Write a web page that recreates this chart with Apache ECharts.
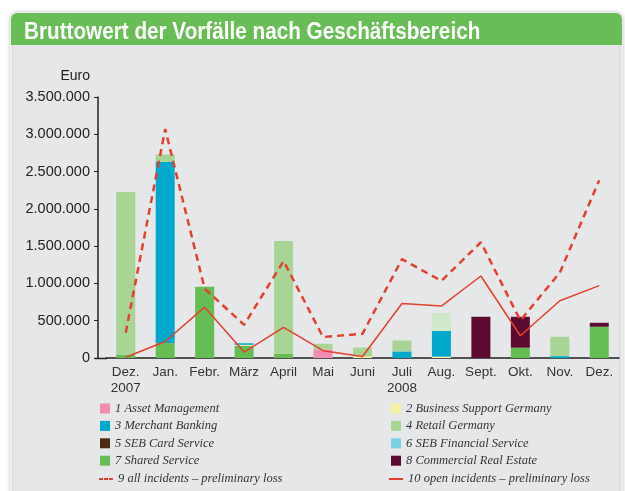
<!DOCTYPE html>
<html>
<head>
  <meta charset="utf-8">
  <title>Bruttowert der Vorfälle nach Geschäftsbereich</title>
  <script src="https://cdn.jsdelivr.net/npm/echarts@6/dist/echarts.min.js"></script>
  <style>
    body { margin: 0; background: #fff; }
  </style>
</head>
<body>
  <div id="main" style="width: 625px; height: 491px;"></div>

  <script>
    // Monate
    var months = ['Dez.\n2007', 'Jan.', 'Febr.', 'März', 'April', 'Mai', 'Juni', 'Juli\n2008', 'Aug.', 'Sept.', 'Okt.', 'Nov.', 'Dez.'];

    // Balken je Geschäftsbereich (Euro, geschätzt)
    var assetManagement    = [0, 0, 0, 0, 0, 115000, 0, 0, 0, 0, 0, 0, 0];
    var businessSupport    = [0, 0, 0, 12000, 0, 0, 20000, 0, 18000, 0, 0, 0, 0];
    var merchantBanking    = [0, 2430000, 0, 20000, 0, 0, 0, 88000, 345000, 0, 0, 25000, 0];
    var retailGermany      = [2180000, 100000, 0, 0, 1510000, 76000, 120000, 147000, 240000, 0, 0, 260000, 0];
    var sebCardService     = [0, 0, 0, 0, 0, 0, 0, 0, 0, 0, 0, 0, 0];
    var sebFinancial       = [0, 0, 0, 0, 0, 0, 0, 0, 0, 0, 0, 0, 0];
    var sharedService      = [45000, 200000, 955000, 165000, 58000, 0, 0, 0, 0, 0, 138000, 0, 419000];
    var commercialRealEst  = [0, 0, 0, 0, 0, 0, 0, 0, 0, 553000, 415000, 0, 53000];

    // Linien
    var allIncidents  = [340000, 3070000, 930000, 445000, 1300000, 281000, 325000, 1325000, 1034000, 1552000, 503000, 1145000, 2385000];
    var openIncidents = [10000, 222000, 682000, 80000, 410000, 98000, 20000, 730000, 696000, 1100000, 298000, 767000, 971000];

    var names = [
      '1 Asset Management', '2 Business Support Germany',
      '3 Merchant Banking', '4 Retail Germany',
      '5 SEB Card Service', '6 SEB Financial Service',
      '7 Shared Service', '8 Commercial Real Estate',
      '9 all incidents – preliminary loss', '10 open incidents – preliminary loss'
    ];

    var chart = echarts.init(document.getElementById('main'));

    function bar(name, data, color) {
      return {
        name: name,
        type: 'bar',
        stack: 'total',
        barWidth: 19,
        itemStyle: { color: color },
        data: data
      };
    }

    // August: oberster Teil heller eingefärbt
    var retailData = retailGermany.map(function (v, i) {
      return i === 8 ? { value: v, itemStyle: { color: '#d0e8c7' } } : v;
    });

    var legendText = {
      fontFamily: 'Liberation Serif',
      fontStyle: 'italic',
      fontSize: 12.5,
      color: '#333'
    };

    var option = {
      backgroundColor: '#fff',
      animation: false,
      graphic: [
        {
          type: 'rect',
          z: -10,
          shape: { x: 11, y: 13, width: 611, height: 485, r: 6 },
          style: { fill: '#e6e7e9', stroke: '#fff', lineWidth: 1, shadowBlur: 4, shadowColor: 'rgba(0,0,0,0.25)' }
        },
        {
          type: 'rect',
          z: -9,
          shape: { x: 11, y: 13, width: 611, height: 32, r: [6, 6, 0, 0] },
          style: { fill: '#68bd56' }
        },
        {
          // Titel, schmal gesetzt
          type: 'text',
          x: 24,
          y: 21,
          scaleX: 0.9,
          style: {
            text: 'Bruttowert der Vorfälle nach Geschäftsbereich',
            fill: '#fff',
            font: 'bold 23px "Liberation Sans", sans-serif'
          }
        },
        {
          type: 'line',
          shape: { x1: 95, y1: 358.5, x2: 107, y2: 358.5 },
          style: { stroke: '#222', lineWidth: 1.5 }
        }
      ],
      legend: [
        {
          data: [names[0], names[2], names[4], names[6]],
          orient: 'vertical', left: 95, top: 397,
          itemWidth: 10, itemHeight: 10, itemGap: 4.4,
          icon: 'rect', textStyle: legendText
        },
        {
          data: [names[1], names[3], names[5], names[7]],
          orient: 'vertical', left: 386, top: 397,
          itemWidth: 10, itemHeight: 10, itemGap: 4.4,
          icon: 'rect', textStyle: legendText
        },
        {
          data: [{ name: names[8], icon: 'path://M0,0h4v2h-4zM5,0h4v2h-4zM10,0h4v2h-4z' }],
          left: 94, top: 467.5, itemWidth: 14, itemHeight: 2,
          textStyle: legendText
        },
        {
          data: [{ name: names[9], icon: 'path://M0,0h14v2h-14z' }],
          left: 384, top: 467.5, itemWidth: 14, itemHeight: 2,
          textStyle: legendText
        }
      ],
      grid: { left: 106, right: 6, top: 97, bottom: 133 },
      xAxis: {
        type: 'category',
        data: months,
        axisLine: { lineStyle: { color: '#222', width: 1.5 } },
        axisTick: { show: false },
        axisLabel: {
          color: '#333',
          fontFamily: 'Liberation Sans',
          fontSize: 13.5,
          lineHeight: 16,
          margin: 6,
          interval: 0
        }
      },
      yAxis: {
        type: 'value',
        name: 'Euro',
        nameGap: 14,
        nameTextStyle: { color: '#222', fontFamily: 'Liberation Sans', fontSize: 14, align: 'right', padding: [0, 8, 0, 0] },
        min: 0,
        max: 3500000,
        interval: 500000,
        offset: 8,
        axisLine: { show: true, lineStyle: { color: '#222', width: 1.5 } },
        axisTick: { show: true, length: 4, lineStyle: { color: '#222' } },
        splitLine: { show: false },
        axisLabel: {
          color: '#222',
          fontFamily: 'Liberation Sans',
          fontSize: 14.5,
          margin: 8,
          formatter: function (v) {
            return String(v).replace(/\B(?=(\d{3})+(?!\d))/g, '.');
          }
        }
      },
      series: [
        bar(names[6], sharedService, '#66bd54'),
        bar(names[0], assetManagement, '#f18db1'),
        bar(names[1], businessSupport, '#f6f2a4'),
        bar(names[2], merchantBanking, '#00a8cc'),
        bar(names[5], sebFinancial, '#7ecfe6'),
        bar(names[4], sebCardService, '#4d2a12'),
        {
          name: names[3], type: 'bar', stack: 'total', barWidth: 19,
          itemStyle: { color: '#a8d595' }, data: retailData
        },
        bar(names[7], commercialRealEst, '#5c0a2f'),
        {
          name: names[8],
          type: 'line',
          symbol: 'none',
          z: 5,
          lineStyle: { color: '#e2412f', width: 2.5, type: [7, 5] },
          itemStyle: { color: '#e2412f' },
          data: allIncidents
        },
        {
          name: names[9],
          type: 'line',
          symbol: 'none',
          z: 5,
          lineStyle: { color: '#e2412f', width: 1.5 },
          itemStyle: { color: '#e2412f' },
          data: openIncidents
        }
      ]
    };

    chart.setOption(option);
  </script>
</body>
</html>
